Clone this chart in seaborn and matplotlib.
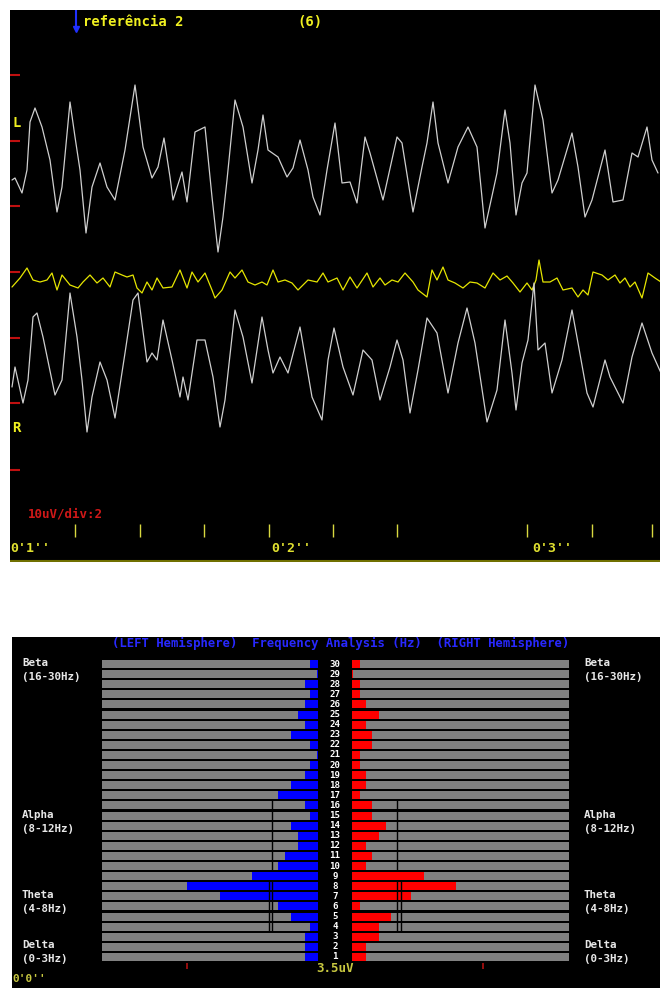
import matplotlib
matplotlib.use('Agg')
import matplotlib.pyplot as plt
import matplotlib.transforms as mtransforms
import seaborn as sns
import pandas as pd

# --- EEG traces (screen samples: x position, y position on the monitor grid) ---
left_x = [12, 15, 22, 27, 30, 35, 42, 50, 57, 62, 70, 75, 80, 86, 92, 100, 107, 115, 125, 135,
          143, 152, 158, 164, 170, 173, 182, 187, 195, 205, 212, 218, 223, 227, 235, 243, 252, 258,
          263, 268, 278, 287, 293, 300, 308, 313, 320, 327, 335, 342, 350, 357, 365, 370, 383, 397,
          402, 413, 422, 427, 433, 438, 448, 458, 468, 477, 485, 497, 505, 510, 516, 522, 527, 535,
          543, 552, 558, 572, 578, 585, 592, 605, 613, 623, 632, 638, 647, 652, 658]
left_y = [180, 178, 193, 170, 122, 108, 127, 160, 212, 187, 102, 137, 170, 233, 187, 163, 187, 200, 150, 85,
          147, 178, 167, 138, 177, 200, 172, 202, 132, 127, 197, 252, 217, 180, 100, 127, 183, 150,
          115, 150, 157, 177, 168, 140, 170, 197, 215, 170, 123, 183, 182, 203, 137, 153, 200, 137,
          143, 212, 167, 143, 102, 143, 183, 147, 127, 147, 228, 173, 110, 143, 215, 183, 173, 85,
          120, 193, 180, 133, 167, 217, 200, 150, 202, 200, 153, 157, 127, 160, 173]

ref_x = [12, 20, 27, 33, 40, 47, 52, 57, 62, 70, 78, 83, 90, 97, 103, 110, 115, 122, 127, 133, 137, 142,
         147, 152, 157, 163, 172, 180, 187, 192, 198, 205, 212, 215, 222, 230, 235, 242, 248, 255, 262,
         267, 273, 278, 285, 292, 298, 308, 317, 323, 328, 337, 343, 350, 357, 367, 373, 380, 385, 392,
         398, 405, 413, 418, 427, 432, 437, 443, 448, 455, 463, 470, 477, 485, 493, 500, 507, 513, 520,
         527, 532, 536, 539, 543, 550, 557, 563, 572, 578, 583, 588, 593, 602, 608, 615, 620, 625, 630,
         635, 642, 648, 655, 661]
ref_y = [287, 278, 268, 280, 282, 280, 273, 290, 275, 285, 288, 282, 275, 283, 278, 287, 272, 275, 277, 275, 288, 293,
         282, 290, 278, 288, 287, 270, 288, 272, 282, 273, 290, 298, 290, 272, 278, 270, 282, 285, 282,
         285, 270, 282, 280, 283, 290, 280, 282, 273, 282, 278, 290, 277, 288, 273, 287, 278, 285, 280,
         282, 273, 282, 290, 297, 270, 280, 267, 280, 283, 288, 282, 283, 288, 273, 280, 276, 283, 292,
         283, 290, 280, 260, 282, 282, 278, 290, 288, 297, 290, 295, 272, 275, 280, 275, 283, 278, 287,
         282, 298, 273, 278, 282]

right_x = [12, 15, 23, 28, 33, 37, 43, 55, 62, 70, 77, 82, 87, 92, 100, 107, 115, 125, 133, 138, 147, 152,
           157, 163, 172, 180, 183, 188, 197, 205, 213, 220, 225, 235, 243, 252, 262, 268, 273, 280, 288,
           300, 312, 322, 328, 334, 343, 353, 363, 372, 380, 390, 397, 403, 410, 418, 427, 437, 448, 458,
           467, 475, 487, 497, 505, 512, 516, 522, 528, 534, 538, 545, 552, 562, 572, 578, 587, 593, 605,
           610, 618, 623, 632, 642, 652, 661]
right_y = [387, 367, 403, 380, 317, 313, 337, 395, 380, 293, 337, 380, 432, 397, 362, 380, 418, 353, 300, 293, 362, 353,
           360, 320, 360, 397, 377, 400, 340, 340, 377, 427, 400, 310, 337, 383, 317, 350, 373, 357, 373,
           327, 397, 420, 360, 328, 367, 395, 350, 360, 400, 367, 340, 360, 413, 370, 318, 333, 393, 343,
           308, 343, 422, 390, 320, 373, 410, 363, 340, 283, 350, 343, 393, 360, 310, 343, 393, 407, 360,
           377, 393, 403, 357, 323, 353, 373]

scale_marks = [75, 141, 206, 272, 338, 403, 470]
time_ticks = [75, 140, 204, 269, 333, 397, 527, 592, 652]
time_labels = ["0'1''", "0'2''", "0'3''"]
time_label_x = [10, 271, 532]

# --- Frequency analysis (uV per 1 Hz bin, 30 Hz at top) ---
freqs = [str(f) for f in range(30, 0, -1)]
left_uv = [0.21, 0.03, 0.35, 0.21, 0.35, 0.53, 0.35, 0.72, 0.21, 0.03, 0.21, 0.35, 0.72, 1.07, 0.35,
           0.21, 0.72, 0.53, 0.53, 0.88, 1.07, 1.76, 3.50, 2.62, 1.07, 0.72, 0.21, 0.35, 0.35, 0.35]
right_uv = [0.21, 0.03, 0.21, 0.21, 0.37, 0.72, 0.37, 0.53, 0.53, 0.21, 0.21, 0.37, 0.37, 0.21, 0.53,
            0.53, 0.91, 0.72, 0.37, 0.53, 0.37, 1.92, 2.78, 1.58, 0.21, 1.04, 0.72, 0.72, 0.37, 0.37]
full_scale_left = 5.77
full_scale_right = 5.80
scale_uv = 3.5
# band mean markers: (value, first Hz row, last Hz row)
left_means = [(1.22, 16, 10), (1.22, 8, 4), (1.31, 8, 4)]
right_means = [(1.21, 16, 10), (1.21, 8, 4), (1.30, 8, 4)]
bands = [("Beta", "(16-30Hz)", 658), ("Alpha", "(8-12Hz)", 810),
         ("Theta", "(4-8Hz)", 890), ("Delta", "(0-3Hz)", 940)]

W, H = 662, 992


def frac(x0, y0, x1, y1):
    return [x0 / W, 1 - y1 / H, (x1 - x0) / W, (y1 - y0) / H]


def fx(x):
    return x / W


def fy(y):
    return 1 - y / H


sns.set_theme(style='white')
plt.rcParams['font.family'] = ['DejaVu Sans Mono']
plt.rcParams['font.weight'] = 'bold'

fig = plt.figure(figsize=(6.62, 9.92), dpi=100)
fig.patch.set_facecolor('white')

# ---------------- top panel: EEG ----------------
ax = fig.add_axes(frac(10, 10, 660, 562))
ax.set_facecolor('black')
for name, xs, ys, col in [('L', left_x, left_y, '#cfcfcf'),
                          ('ref', ref_x, ref_y, '#e6e600'),
                          ('R', right_x, right_y, '#cfcfcf')]:
    d = pd.DataFrame({'x': xs, 'y': ys})
    sns.lineplot(data=d, x='x', y='y', sort=False, estimator=None, color=col, lw=0.9, ax=ax)
ax.set_xlim(10, 660)
ax.set_ylim(562, 10)
ax.set_xlabel('')
ax.set_ylabel('')
ax.set_xticks([])
ax.set_yticks([])
for s in ax.spines.values():
    s.set_visible(False)

ax.hlines(scale_marks, 10, 20, color='#c01010', lw=1.5)
ax.vlines(time_ticks, 524, 537, color='#d8d840', lw=1)
ax.axhline(561, color='#707000', lw=1.5)
ax.plot([76, 76], [10, 28], color='#2030ff', lw=1.5)
ax.plot([76], [29], marker='v', color='#2030ff', ms=5)
ax.text(83, 22, 'referência 2', color='#f0f020', fontsize=10, va='center', ha='left')
ax.text(297, 22, '(6)', color='#f0f020', fontsize=10, va='center', ha='left')
ax.text(12, 123, 'L', color='#f0f020', fontsize=10, va='center', ha='left')
ax.text(12, 428, 'R', color='#f0f020', fontsize=10, va='center', ha='left')
ax.text(28, 514, '10uV/div:2', color='#d01818', fontsize=9, va='center', ha='left')
for lab, x in zip(time_labels, time_label_x):
    ax.text(x, 549, lab, color='#e0e030', fontsize=9.5, va='center', ha='left')

# ---------------- bottom panel: frequency analysis ----------------
bg = fig.add_axes(frac(12, 637, 660, 988))
bg.set_facecolor('black')
bg.set_xticks([])
bg.set_yticks([])
for s in bg.spines.values():
    s.set_visible(False)

axl = fig.add_axes(frac(102, 659, 318, 962))
axr = fig.add_axes(frac(352, 659, 569, 962))

for a, vals, full, col, means in [(axl, left_uv, full_scale_left, '#0000ff', left_means),
                                  (axr, right_uv, full_scale_right, '#ff0000', right_means)]:
    a.set_facecolor('black')
    sns.barplot(x=[full] * len(freqs), y=freqs, order=freqs, orient='y', color='#808080',
                saturation=1, width=0.8, linewidth=0, ax=a)
    sns.barplot(x=vals, y=freqs, order=freqs, orient='y', color=col,
                saturation=1, width=0.8, linewidth=0, ax=a)
    for val, f0, f1 in means:
        a.vlines(val, freqs.index(str(f0)) - 0.5, freqs.index(str(f1)) + 0.5, color='black', lw=1)
    a.vlines(scale_uv, 29.6, 30.2, color='#b01010', lw=1.2, clip_on=False)
    a.set_ylim(len(freqs) - 0.5, -0.5)
    a.set_xlabel('')
    a.set_ylabel('')
    a.set_xticks([])
    a.set_yticks([])
    for s in a.spines.values():
        s.set_visible(False)

axl.set_xlim(full_scale_left, 0)
axr.set_xlim(0, full_scale_right)

trans = mtransforms.blended_transform_factory(axr.transAxes, axr.transData)
for i, f in enumerate(freqs):
    axr.text(-0.078, i, f, transform=trans, color='white', fontsize=6.6,
             ha='center', va='center')

fig.text(fx(341), fy(643), '(LEFT Hemisphere)  Frequency Analysis (Hz)  (RIGHT Hemisphere)',
         color='#2828ff', fontsize=8.8, ha='center', va='center')
for name, rng, ytop in bands:
    for x in (22, 584):
        fig.text(fx(x), fy(ytop + 5), name, color='#e8e8e8', fontsize=7.8, ha='left', va='center')
        fig.text(fx(x), fy(ytop + 19), rng, color='#e8e8e8', fontsize=7.8, ha='left', va='center')
fig.text(fx(335), fy(968), '3.5uV', color='#c8c840', fontsize=9, ha='center', va='center')
fig.text(fx(12), fy(979), "0'0''", color='#c8c840', fontsize=8, ha='left', va='center')

fig.savefig('out.png', dpi=100, facecolor='white')
